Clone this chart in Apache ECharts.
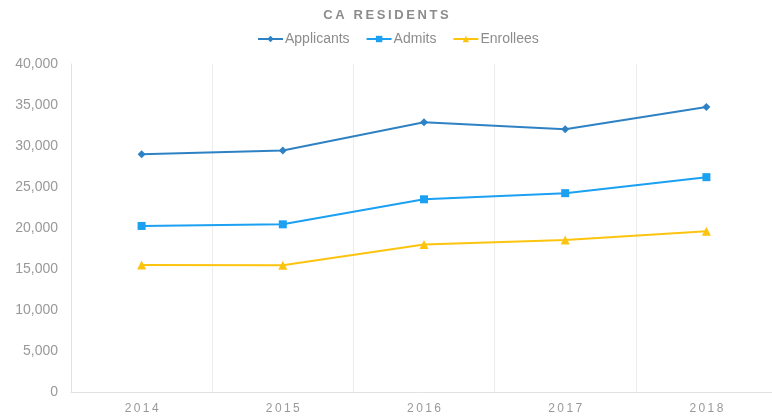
<!DOCTYPE html>
<html>
<head>
<meta charset="utf-8">
<script src="https://cdn.jsdelivr.net/npm/echarts@6/dist/echarts.min.js"></script>
<style>
  html, body { margin: 0; padding: 0; background: #fff; }
  #main { width: 772px; height: 416px; }
</style>
</head>
<body>
<div id="main"></div>
<script>
var years = ['2014', '2015', '2016', '2017', '2018'];
var applicants = [29000, 29450, 32900, 32050, 34750];
var admits = [20250, 20450, 23500, 24250, 26200];
var enrollees = [15500, 15450, 18000, 18550, 19600];
var yTicks = [0, 5000, 10000, 15000, 20000, 25000, 30000, 35000, 40000];

var chart = echarts.init(document.getElementById('main'));

// spread letters a little, like the original title / x labels
function spaced(s) { return s.split('').join('\u2009'); }

var option = {
  animation: false,
  textStyle: { fontFamily: 'Liberation Sans, Arial, sans-serif' },
  title: {
    text: spaced('CA RESIDENTS'),
    left: 'center',
    top: 4,
    textStyle: { fontSize: 13, fontWeight: 'bold', color: '#8c8c8c' }
  },
  legend: {
    top: 27,
    left: 252,
    itemWidth: 25,
    itemHeight: 8,
    itemGap: 16,
    textStyle: { fontSize: 14, color: '#8c8c8c', padding: [0, 0, 0, -3] },
    data: ['Applicants', 'Admits', 'Enrollees']
  },
  grid: { left: 71, top: 64, width: 706, height: 328, outerBoundsMode: 'none' },
  xAxis: {
    type: 'category',
    data: years,
    boundaryGap: true,
    axisLine: { lineStyle: { color: '#e2e2e2' } },
    axisTick: { show: false },
    splitLine: { show: true, lineStyle: { color: '#ececec' } },
    axisLabel: { color: '#999', fontSize: 12, margin: 11, formatter: spaced }
  },
  yAxis: {
    type: 'value',
    min: yTicks[0],
    max: yTicks[yTicks.length - 1],
    interval: 5000,
    axisLine: { show: true, lineStyle: { color: '#e2e2e2' } },
    axisTick: { show: false },
    splitLine: { show: false },
    axisLabel: {
      color: '#999', fontSize: 14, margin: 13,
      formatter: function (v) { return v.toLocaleString('en-US'); }
    }
  },
  series: [
    {
      name: 'Applicants', type: 'line', data: applicants,
      symbol: 'diamond', symbolSize: 8,
      itemStyle: { color: '#2e82c4' }, lineStyle: { width: 2 }
    },
    {
      name: 'Admits', type: 'line', data: admits,
      symbol: 'rect', symbolSize: 8,
      itemStyle: { color: '#1ba0f2' }, lineStyle: { width: 2 }
    },
    {
      name: 'Enrollees', type: 'line', data: enrollees,
      symbol: 'triangle', symbolSize: 9,
      itemStyle: { color: '#fcc40f' }, lineStyle: { width: 2 }
    }
  ]
};

chart.setOption(option);
</script>
</body>
</html>
